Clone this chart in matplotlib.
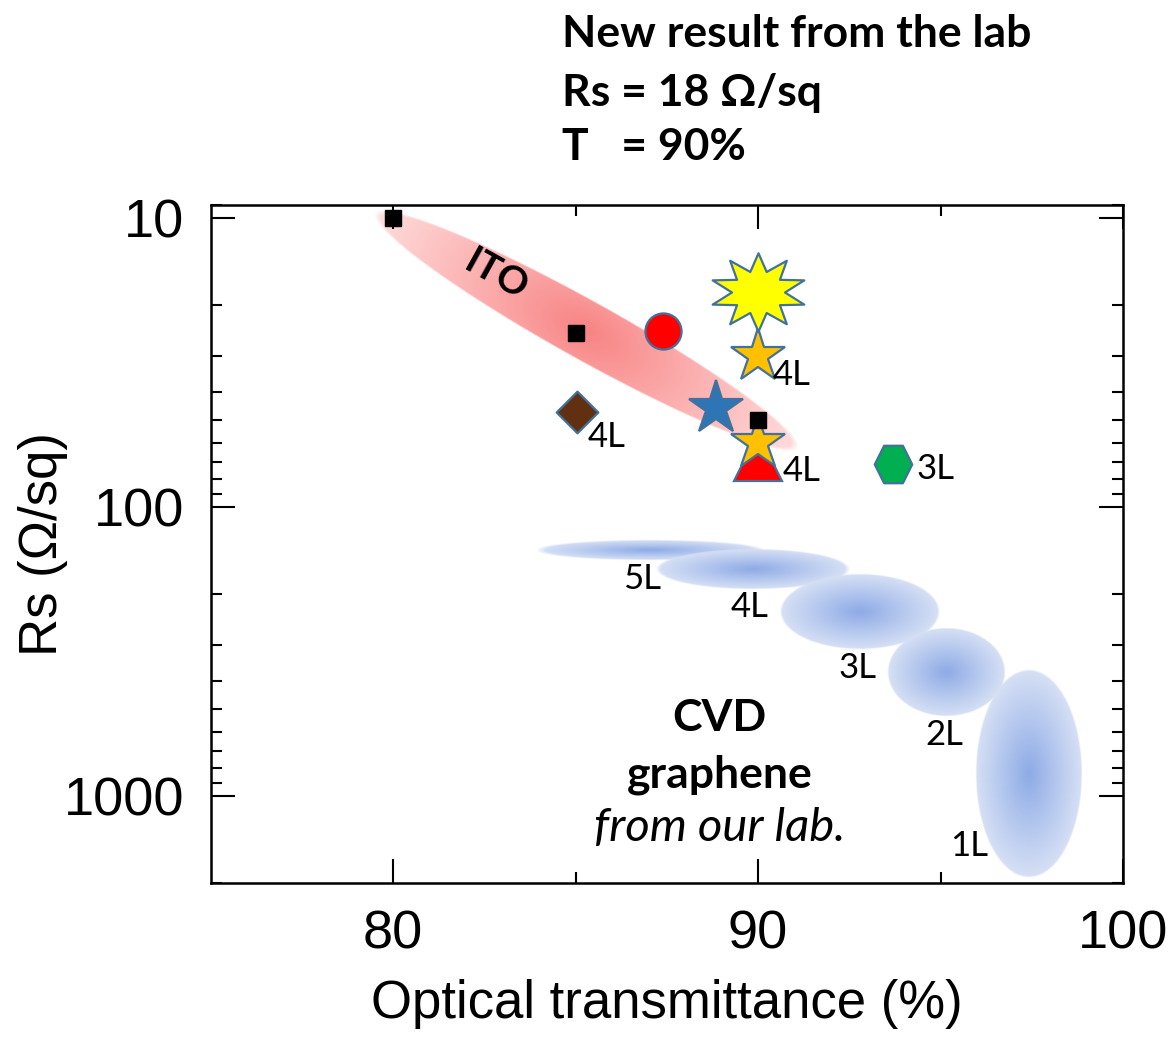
import numpy as np
import matplotlib
matplotlib.use('Agg')
import matplotlib.pyplot as plt
from matplotlib.path import Path
from matplotlib.colors import to_rgb

plt.rcParams['font.family'] = 'Liberation Sans'

# ITO films: transmittance (%) and sheet resistance (ohm/sq)
ito_T = [80, 85, 90]
ito_Rs = [10, 25, 50]
# the two tips of the ITO band
ito_end_T = [79.6, 91.0]
ito_end_Rs = [9.8, 62.0]

# doped / hybrid graphene films from the literature
lit_T = [87.4, 88.85, 85.05, 90.0, 90.0, 90.0, 93.7]
lit_Rs = [24.6, 45.4, 47.0, 30.0, 67.0, 60.0, 71.0]
lit_layers = ['', '', '4L', '4L', '', '4L', '3L']
lit_label_T = [0, 0, 85.85, 90.93, 0, 91.2, 94.87]
lit_label_Rs = [0, 0, 57.4, 34.8, 0, 75.3, 74.1]

# new result from the lab
new_T = 90
new_Rs = 18

# CVD graphene from our lab: centre and spread of each layer number
cvd_layers = ['5L', '4L', '3L', '2L', '1L']
cvd_T = [87.04, 89.86, 92.80, 95.15, 97.40]
cvd_Rs = [141, 164, 230, 372, 837]
cvd_dT = [3.01, 2.59, 2.16, 1.59, 1.44]
cvd_dlog = [0.0345, 0.069, 0.129, 0.152, 0.358]
cvd_label_T = [86.83, 89.78, 92.72, 95.10, 95.78]
cvd_label_Rs = [177, 222, 362, 615, 1490]


def star10():
    k = np.arange(20)
    ang = np.deg2rad(90 + 18 * k)
    rad = np.where(k % 2 == 0, 1.0, 0.55)
    v = np.column_stack([rad * np.cos(ang), 0.814 * rad * np.sin(ang)])
    return Path(np.vstack([v, v[:1]]), closed=True)


hexagon = Path([(-1, 0), (-0.5, 1), (0.5, 1), (1, 0), (0.5, -1), (-0.5, -1), (-1, 0)], closed=True)
diamond = Path([(0, 1), (1, 0), (0, -1), (-1, 0), (0, 1)], closed=True)

edge_blue = '#41719C'
lit_style = [('o', 26, '#FF0000'),
             ('*', 41, '#2E75B6'),
             (diamond, 30, '#603010'),
             ('*', 41, '#FFC000'),
             ('^', 34, '#FF0000'),
             ('*', 41, '#FFC000'),
             (hexagon, 27, '#00B050')]

fig = plt.figure(figsize=(11.73, 10.37), dpi=100)
ax = fig.add_axes([0.1795, 0.1487, 0.7779, 0.6536])
ax.set_yscale('log')
ax.set_xlim(75, 100)
ax.set_ylim(2000, 9)
ax.set_autoscale_on(False)


def shade(ax, x0, y0, x1, y1, fn, c_mid, c_edge, z):
    # paint a gradient blob inside the pixel box (x0, y0)-(x1, y1)
    nx = int((x1 - x0) * 2) + 2
    ny = int((y1 - y0) * 2) + 2
    X, Y = np.meshgrid(np.linspace(x0, x1, nx), np.linspace(y0, y1, ny))
    r, f, soft = fn(X, Y)
    f = np.clip(f, 0, 1)[..., None]
    rgb = np.array(to_rgb(c_mid)) * (1 - f) + np.array(to_rgb(c_edge)) * f
    alpha = np.clip((1 - r) * soft + 0.5, 0, 1)[..., None]
    img = np.concatenate([rgb, alpha], axis=2)
    (a0, b0), (a1, b1) = ax.transAxes.inverted().transform([(x0, y0), (x1, y1)])
    ax.imshow(img, extent=(a0, a1, b0, b1), origin='lower', transform=ax.transAxes,
              aspect='auto', interpolation='bilinear', zorder=z)


# ITO band, shaded along its length
p0, p1 = ax.transData.transform(list(zip(ito_end_T, ito_end_Rs)))
mid = (p0 + p1) / 2
half_len = np.hypot(*(p1 - p0)) / 2
u = (p1 - p0) / (2 * half_len)
nrm = np.array([-u[1], u[0]])
half_w = 29


def ito_fn(X, Y):
    p = (X - mid[0]) * u[0] + (Y - mid[1]) * u[1]
    q = (X - mid[0]) * nrm[0] + (Y - mid[1]) * nrm[1]
    r = np.sqrt((p / half_len) ** 2 + (q / half_w) ** 2)
    f = np.sqrt((p / half_len) ** 2 + 0.05 * (q / half_w) ** 2)
    return r, f, half_w


shade(ax, mid[0] - half_len - 2, mid[1] - half_len - 2, mid[0] + half_len + 2, mid[1] + half_len + 2,
      ito_fn, '#F88383', '#FFDCDC', 1)

# CVD graphene blobs
for T, R, dT, dl in zip(cvd_T, cvd_Rs, cvd_dT, cvd_dlog):
    c = ax.transData.transform((T, R))
    a = ax.transData.transform((T + dT, R))[0] - c[0]
    b = abs(ax.transData.transform((T, R * 10 ** dl))[1] - c[1])

    def cvd_fn(X, Y, c=c, a=a, b=b):
        r = np.sqrt(((X - c[0]) / a) ** 2 + ((Y - c[1]) / b) ** 2)
        return r, r, min(a, b)

    shade(ax, c[0] - a - 2, c[1] - b - 2, c[0] + a + 2, c[1] + b + 2,
          cvd_fn, '#8EABE6', '#D6E0F5', 1)

for T, R, name in zip(cvd_label_T, cvd_label_Rs, cvd_layers):
    ax.text(T, R, name, fontsize=25, family='Lato', ha='center', va='center', zorder=6)

# literature points
for T, R, (m, ms, fc) in zip(lit_T, lit_Rs, lit_style):
    ax.plot(T, R, marker=m, ms=ms, mfc=fc, mec=edge_blue, mew=1.6, ls='none', zorder=3)
for T, R, name in zip(lit_label_T, lit_label_Rs, lit_layers):
    if name:
        ax.text(T, R, name, fontsize=25, family='Lato', ha='center', va='center', zorder=6)

ax.plot(new_T, new_Rs, marker=star10(), ms=66, mfc='#FFFF00', mec=edge_blue, mew=1.6,
        ls='none', zorder=4)

ax.plot(ito_T, ito_Rs, 's', ms=11, color='black', zorder=5)
ax.text(82.83, 15.7, 'ITO', fontsize=28, family='Lato', weight='bold', rotation=-29,
        ha='center', va='center', zorder=6)

ax.text(88.94, 598, 'CVD', fontsize=32, family='Lato', weight='bold', ha='center', va='baseline')
ax.text(88.94, 933, 'graphene', fontsize=32, family='Lato', weight='bold', ha='center', va='baseline')
ax.text(88.94, 1432, 'from our lab.', fontsize=34, family='Lato', style='italic',
        ha='center', va='baseline')

# axes, ticks, labels
ax.set_xticks([80, 90, 100])
ax.set_xticks([85, 95], minor=True)
ax.set_xticklabels(['80', '90', '100'])
ax.set_yticks([10, 100, 1000])
ax.set_yticklabels(['10', '100', '1000'])
ax.tick_params(which='both', direction='in', top=True, right=True, width=1.5, labelsize=39)
ax.tick_params(which='major', length=17, pad=19)
ax.tick_params(which='minor', length=8)
ax.yaxis.set_minor_formatter(plt.NullFormatter())
for s in ax.spines.values():
    s.set_linewidth(1.8)

ax.set_xlabel('Optical transmittance (%)', fontsize=38)
ax.set_ylabel('Rs (\u03a9/sq)', fontsize=38)
ax.xaxis.set_label_coords(0.5, -0.142)
ax.yaxis.set_label_coords(-0.156, 0.5)

fig.text(0.479, 1 - 47 / 1037, 'New result from the lab', fontsize=32, family='Lato', weight='bold')
fig.text(0.479, 1 - 106 / 1037, 'Rs = 18 \u03a9/sq', fontsize=32, family='Lato', weight='bold')
fig.text(0.479, 1 - 160 / 1037, 'T   = 90%', fontsize=32, family='Lato', weight='bold')

fig.savefig('out.png', dpi=100)
